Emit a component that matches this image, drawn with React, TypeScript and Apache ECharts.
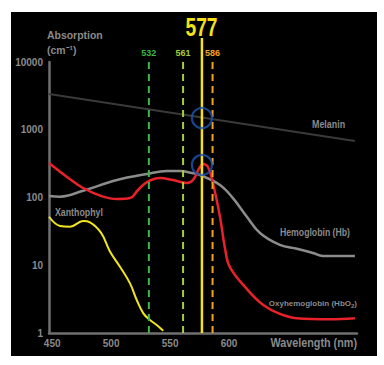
import React, { useEffect, useRef } from "react";
import * as echarts from "echarts";

// Wavelength (nm) / absorption (cm^-1)
const melanin: [number, number][] = [[447.3, 3370], [706.7, 682]];
const hemoglobin: [number, number][] = [
  [447.3, 105], [456.7, 103], [476.2, 126], [505.0, 181], [530.4, 222], [547.3, 246],
  [558.4, 246], [568.5, 230], [575.3, 215], [592.3, 153], [603.3, 98], [615.1, 52],
  [626.2, 30], [643.1, 20], [657.5, 17.5], [671.1, 15.2], [679.5, 13.7], [706.7, 13.7],
];
const oxyhemoglobin: [number, number][] = [
  [447.3, 323], [462.6, 201], [476.2, 138], [491.8, 105], [505.0, 95], [516.0, 98],
  [522.8, 129], [530.4, 169], [541.4, 194], [552.4, 181], [564.3, 164], [569.4, 181],
  [575.3, 282], [577.8, 312], [582.1, 282], [586.3, 164], [592.3, 52], [596.5, 18],
  [600.7, 9.4], [615.9, 4.3], [629.0, 2.59], [643.1, 1.91], [657.3, 1.65], [685.5, 1.59],
  [706.7, 1.65],
];
const xanthophyl: [number, number][] = [
  [447.3, 52], [456.7, 38], [465.1, 37], [476.2, 45], [482.1, 43], [491.5, 30],
  [499.0, 16], [507.5, 9.5], [516.0, 5.4], [521.7, 3.07], [527.3, 1.95], [532.9, 1.56],
  [538.6, 1.31], [544.2, 1.08],
];
const laserLines = [532, 561, 586];
const laserColors = ["#3cb54a", "#a4cf3a", "#f6a11c"];
const mainLaser = 577;
const markers: [number, number][] = [[577, 1490], [577, 302]];
const xTicks = [450, 500, 550, 600];

const FONT = "'Liberation Sans', Arial, sans-serif";
const GREY = "#8a8a8a";

export default function App() {
  const ref = useRef<HTMLDivElement>(null);
  useEffect(() => {
    if (!ref.current) return;
    const chart = echarts.init(ref.current, undefined, { renderer: "svg" });
    const ox = 11, oy = 12;
    const txt = (text: string, x: number, y: number, size: number, sx: number, align = "left", color = GREY, rich?: any) => ({
      type: "text",
      x: x - ox,
      y: y - oy,
      scaleX: sx,
      style: {
        text,
        fill: color,
        font: `bold ${size}px ${FONT}`,
        textAlign: align,
        textVerticalAlign: "middle",
        ...(rich ? { rich } : {}),
      },
    });
    const series: any[] = [
      {
        type: "line", data: melanin, symbol: "none", clip: false,
        lineStyle: { color: "#3a3a3a", width: 2 }, z: 2,
      },
      {
        type: "line", data: xanthophyl, symbol: "none", smooth: 0.4, clip: false,
        lineStyle: { color: "#f2e51e", width: 2 }, z: 3,
      },
      {
        type: "line", data: hemoglobin, symbol: "none", smooth: 0.4, clip: false,
        lineStyle: { color: "#8c8c8c", width: 2.5 }, z: 3,
      },
      {
        type: "line", data: oxyhemoglobin, symbol: "none", smooth: 0.4, clip: false,
        lineStyle: { color: "#e8212a", width: 2.5 }, z: 4,
      },
    ];
    laserLines.forEach((w, i) => {
      series.push({
        type: "line", clip: false, symbol: "circle", symbolSize: 0, showSymbol: true, z: 5,
        lineStyle: { color: laserColors[i], width: 2, type: [7, 5] },
        data: [
          [w, 1],
          {
            value: [w, 11070],
            label: {
              show: true, position: "top", distance: 2, formatter: String(w),
              color: laserColors[i], fontFamily: FONT, fontWeight: "bold", fontSize: 9,
            },
          },
        ],
      });
    });
    series.push({
      type: "line", clip: false, symbol: "none", z: 6,
      lineStyle: { color: "#f5e11a", width: 2.5 },
      data: [[mainLaser, 1], [mainLaser, 22600]],
    });
    series.push({
      type: "scatter", data: markers, symbol: "circle", symbolSize: 20, z: 8, clip: false,
      itemStyle: { color: "rgba(0,0,0,0)", borderColor: "#1d55b3", borderWidth: 2.2 },
    });

    chart.setOption({
      animation: false,
      backgroundColor: "#000000",
      grid: { left: 38, top: 50, right: 20, bottom: 23, outerBoundsMode: "none", containLabel: false },
      xAxis: {
        type: "value", min: 447.3, max: 708.5,
        axisLine: { show: true, lineStyle: { color: "#707070", width: 2.5 } },
        axisTick: { show: false },
        splitLine: { show: false },
        axisLabel: {
          customValues: xTicks, color: GREY, fontFamily: FONT, fontWeight: "bold",
          fontSize: 10, margin: 5,
        },
      },
      yAxis: {
        type: "log", logBase: 10, min: 1, max: 10000,
        axisLine: { show: true, lineStyle: { color: "#707070", width: 2.5 } },
        axisTick: { show: false },
        splitLine: { show: false },
        axisLabel: {
          color: GREY, fontFamily: FONT, fontWeight: "bold", fontSize: 10, margin: 6,
          formatter: (v: number) => String(Math.round(v)),
        },
      },
      series,
      graphic: [
        txt("Absorption", 47, 35, 11, 0.95),
        txt("(cm\u207B\u00B9)", 47, 50, 11, 0.95),
        txt(String(mainLaser), 201.5, 27, 26, 0.74, "center", "#f5e11a"),
        txt("Melanin", 312, 124, 10, 0.89),
        txt("Hemoglobin (Hb)", 280, 233, 10, 0.87),
        txt("Oxyhemoglobin (HbO{s|2})", 357, 303, 8, 1, "right", GREY, {
          s: { fill: GREY, font: `bold 6px ${FONT}`, padding: [5, 0, 0, 0] },
        }),
        txt("Xanthophyl", 55, 212, 10, 0.88),
        txt("Wavelength (nm)", 357, 343, 12, 0.9, "right"),
      ],
    });
    return () => chart.dispose();
  }, []);
  return (
    <div style={{ position: "fixed", left: 0, top: 0, width: 384, height: 365, background: "#fff" }}>
      <div ref={ref} style={{ position: "absolute", left: 11, top: 12, width: 366, height: 344 }} />
    </div>
  );
}
